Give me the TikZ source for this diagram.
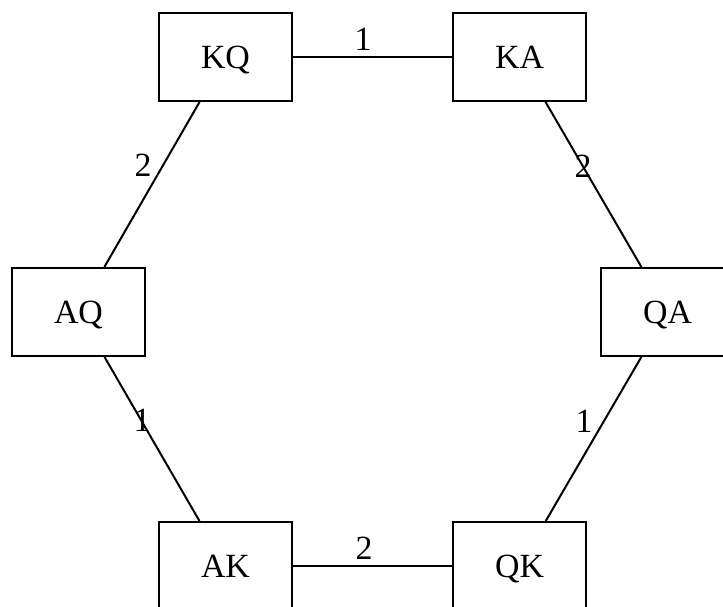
\documentclass[tikz,border=0pt]{standalone}
\usepackage{fontspec}
\setmainfont{Liberation Serif}
\begin{document}
\begin{tikzpicture}[x=1bp,y=-1bp,
  state/.style={draw, line width=2bp, minimum width=133bp, minimum height=88bp,
    inner sep=0pt, text height=22.5bp, text depth=0pt,
    font=\fontsize{34}{40}\selectfont},
  link/.style={line width=2bp},
  weight/.style={inner sep=0pt, font=\fontsize{34}{40}\selectfont}]
\useasboundingbox (0,0) rectangle (723,607);
\clip (0,0) rectangle (723,607);
% states around the hexagon
\node[state] (KQ) at (225.5,57) {KQ};
\node[state] (KA) at (519.5,57) {KA};
\node[state] (AQ) at (78.5,312) {AQ};
\node[state] (QA) at (667.5,312) {QA};
\node[state] (AK) at (225.5,566) {AK};
\node[state] (QK) at (519.5,566) {QK};
% transitions
\draw[link] (KQ) -- (KA);
\draw[link] (KA) -- (QA);
\draw[link] (QA) -- (QK);
\draw[link] (QK) -- (AK);
\draw[link] (AK) -- (AQ);
\draw[link] (AQ) -- (KQ);
% transition weights
\node[weight] (w1) at (363,39) {1};
\node[weight] (w2) at (583,166) {2};
\node[weight] (w3) at (584,421) {1};
\node[weight] (w4) at (364,548) {2};
\node[weight] (w5) at (142,420) {1};
\node[weight] (w6) at (143,165) {2};
\end{tikzpicture}
\end{document}
